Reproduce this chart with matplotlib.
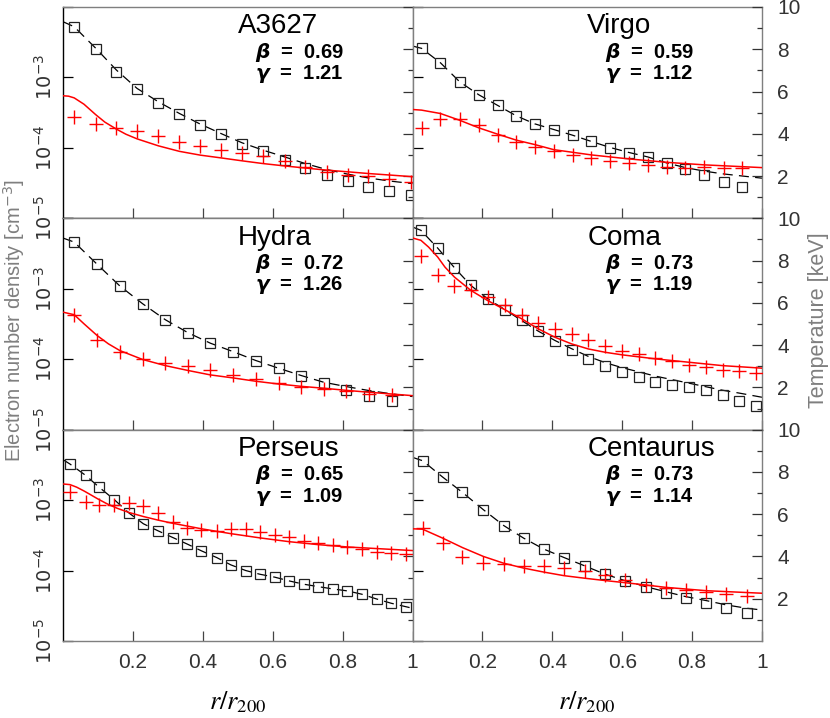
import numpy as np
import matplotlib
matplotlib.use("Agg")
import matplotlib.pyplot as plt
from matplotlib.ticker import NullLocator

plt.rcParams['font.family'] = ['Liberation Sans', 'DejaVu Sans']

# ---------------- data ----------------
names = ["A3627", "Virgo", "Hydra", "Coma", "Perseus", "Centaurus"]
betas = ["0.69", "0.59", "0.72", "0.73", "0.65", "0.73"]
gammas = ["1.21", "1.12", "1.26", "1.19", "1.09", "1.14"]

# A3627
a3627_x = [0.032, 0.094, 0.153, 0.212, 0.273, 0.333, 0.393, 0.452, 0.513, 0.573, 0.634, 0.693, 0.755, 0.816, 0.874, 0.934, 0.996]
a3627_logne = [-2.280, -2.601, -2.920, -3.170, -3.361, -3.526, -3.678, -3.796, -3.938, -4.047, -4.171, -4.285, -4.379, -4.474, -4.555, -4.616, -4.663]
a3627_T = [4.80, 4.45, 4.28, 4.12, 3.90, 3.62, 3.43, 3.22, 3.09, 2.95, 2.72, 2.43, 2.19, 2.07, 1.99, 1.86, 1.72]
a3627_fit_x = [0, 0.032, 0.094, 0.153, 0.212, 0.273, 0.333, 0.393, 0.452, 0.513, 0.573, 0.634, 0.693, 0.755, 0.816, 0.874, 0.934, 1.0]
a3627_fit_logne = [-2.209, -2.280, -2.587, -2.896, -3.156, -3.346, -3.511, -3.663, -3.796, -3.929, -4.033, -4.128, -4.222, -4.308, -4.374, -4.427, -4.470, -4.507]
a3627_fitT_x = [0, 0.016, 0.032, 0.06, 0.094, 0.12, 0.153, 0.18, 0.212, 0.273, 0.333, 0.393, 0.452, 0.513, 0.573, 0.634, 0.693, 0.755, 0.816, 0.874, 0.934, 1.0]
a3627_fitT = [5.80, 5.78, 5.70, 5.40, 4.90, 4.55, 4.22, 3.98, 3.76, 3.43, 3.17, 2.99, 2.86, 2.72, 2.59, 2.48, 2.38, 2.28, 2.20, 2.12, 2.05, 1.97]

# Virgo
virgo_x = [0.026, 0.080, 0.135, 0.190, 0.244, 0.297, 0.350, 0.404, 0.458, 0.512, 0.566, 0.620, 0.673, 0.728, 0.781, 0.835, 0.890, 0.944]
virgo_logne = [-2.587, -2.792, -3.062, -3.247, -3.398, -3.545, -3.659, -3.739, -3.820, -3.909, -3.995, -4.066, -4.128, -4.208, -4.303, -4.384, -4.478, -4.555]
virgo_T = [4.28, 4.72, 4.69, 4.44, 3.96, 3.62, 3.38, 3.18, 3.02, 2.86, 2.72, 2.62, 2.51, 2.43, 2.39, 2.43, 2.39, 2.39]
virgo_fit_x = [0, 0.026, 0.080, 0.135, 0.190, 0.244, 0.297, 0.350, 0.404, 0.458, 0.512, 0.566, 0.620, 0.673, 0.728, 0.781, 0.835, 0.890, 1.0]
virgo_fit_logne = [-2.554, -2.587, -2.792, -3.062, -3.247, -3.398, -3.545, -3.659, -3.739, -3.820, -3.909, -3.995, -4.066, -4.128, -4.215, -4.280, -4.330, -4.370, -4.430]
virgo_fitT_x = [0, 0.026, 0.080, 0.135, 0.190, 0.244, 0.297, 0.350, 0.404, 0.512, 0.620, 0.728, 0.835, 1.0]
virgo_fitT = [5.15, 5.12, 4.96, 4.64, 4.28, 3.98, 3.70, 3.49, 3.25, 3.00, 2.81, 2.65, 2.53, 2.40]

# Hydra
hydra_x = [0.032, 0.098, 0.163, 0.228, 0.293, 0.358, 0.422, 0.486, 0.552, 0.617, 0.682, 0.746, 0.811, 0.876, 0.941]
hydra_logne = [-2.337, -2.654, -2.962, -3.213, -3.440, -3.625, -3.773, -3.891, -4.019, -4.128, -4.232, -4.342, -4.436, -4.517, -4.592]
hydra_T = [5.44, 4.25, 3.66, 3.35, 3.14, 2.99, 2.83, 2.61, 2.40, 2.19, 2.04, 1.93, 1.85, 1.69, 1.66]
hydra_fit_x = [0, 0.032, 0.098, 0.163, 0.228, 0.293, 0.358, 0.422, 0.486, 0.552, 0.617, 0.682, 0.746, 0.811, 0.876, 0.941, 1.0]
hydra_fit_logne = [-2.280, -2.337, -2.654, -2.962, -3.213, -3.440, -3.625, -3.773, -3.891, -4.019, -4.128, -4.232, -4.327, -4.389, -4.445, -4.492, -4.530]
hydra_fitT_x = [0, 0.032, 0.06, 0.098, 0.13, 0.163, 0.228, 0.293, 0.358, 0.422, 0.486, 0.552, 0.617, 0.682, 0.746, 0.811, 0.876, 1.0]
hydra_fitT = [5.56, 5.44, 5.01, 4.45, 4.06, 3.74, 3.32, 3.03, 2.80, 2.59, 2.45, 2.29, 2.16, 2.05, 1.96, 1.86, 1.77, 1.61]

# Coma
coma_x = [0.024, 0.072, 0.120, 0.167, 0.215, 0.265, 0.312, 0.360, 0.408, 0.455, 0.503, 0.552, 0.600, 0.648, 0.695, 0.743, 0.791, 0.839, 0.887, 0.934, 0.982]
coma_logne = [-2.170, -2.422, -2.701, -2.953, -3.142, -3.298, -3.450, -3.602, -3.735, -3.867, -3.995, -4.100, -4.185, -4.256, -4.318, -4.364, -4.399, -4.436, -4.507, -4.588, -4.659]
coma_T = [8.20, 7.30, 6.79, 6.59, 6.30, 5.88, 5.44, 5.06, 4.77, 4.54, 4.22, 3.95, 3.74, 3.59, 3.38, 3.24, 3.07, 2.95, 2.83, 2.76, 2.69]
coma_fit_x = [0, 0.024, 0.072, 0.120, 0.167, 0.215, 0.265, 0.312, 0.360, 0.408, 0.455, 0.503, 0.552, 0.600, 0.648, 0.695, 0.743, 0.791, 0.839, 0.887, 0.934, 1.0]
coma_fit_logne = [-2.123, -2.170, -2.422, -2.701, -2.953, -3.142, -3.298, -3.450, -3.602, -3.735, -3.850, -3.960, -4.050, -4.120, -4.180, -4.240, -4.290, -4.340, -4.390, -4.440, -4.480, -4.540]
coma_fitT_x = [0, 0.024, 0.046, 0.072, 0.093, 0.120, 0.167, 0.215, 0.265, 0.312, 0.360, 0.408, 0.455, 0.503, 0.552, 0.600, 0.695, 0.791, 0.887, 1.0]
coma_fitT = [9.07, 8.96, 8.64, 8.17, 7.69, 7.22, 6.59, 6.11, 5.67, 5.25, 4.77, 4.37, 4.06, 3.82, 3.66, 3.54, 3.35, 3.19, 3.03, 2.91]

# Perseus
perseus_x = [0.020, 0.065, 0.103, 0.147, 0.189, 0.230, 0.272, 0.314, 0.356, 0.396, 0.440, 0.480, 0.523, 0.563, 0.606, 0.647, 0.689, 0.730, 0.772, 0.814, 0.855, 0.897, 0.939, 0.980]
perseus_logne = [-2.488, -2.650, -2.815, -2.995, -3.184, -3.336, -3.436, -3.531, -3.625, -3.720, -3.816, -3.919, -4.000, -4.052, -4.094, -4.147, -4.194, -4.228, -4.261, -4.289, -4.336, -4.403, -4.464, -4.512]
perseus_T = [7.03, 6.57, 6.45, 6.45, 6.55, 6.37, 6.05, 5.65, 5.37, 5.23, 5.21, 5.32, 5.31, 5.18, 5.02, 4.91, 4.74, 4.66, 4.55, 4.47, 4.36, 4.23, 4.18, 4.12]
perseus_fit_x = [0, 0.020, 0.065, 0.103, 0.147, 0.189, 0.230, 0.272, 0.314, 0.356, 0.396, 0.440, 0.480, 0.523, 0.563, 0.606, 0.647, 0.689, 0.730, 0.772, 0.814, 0.855, 0.897, 0.939, 0.980, 1.0]
perseus_fit_logne = [-2.426, -2.488, -2.650, -2.815, -2.995, -3.184, -3.336, -3.436, -3.531, -3.625, -3.720, -3.816, -3.919, -4.000, -4.052, -4.094, -4.147, -4.194, -4.228, -4.261, -4.289, -4.336, -4.403, -4.464, -4.512, -4.535]
perseus_fitT_x = [0, 0.02, 0.039, 0.06, 0.077, 0.1, 0.125, 0.155, 0.189, 0.230, 0.272, 0.314, 0.396, 0.480, 0.563, 0.647, 0.730, 0.814, 1.0]
perseus_fitT = [7.43, 7.40, 7.28, 7.10, 6.94, 6.72, 6.50, 6.28, 6.08, 5.89, 5.72, 5.57, 5.31, 5.08, 4.88, 4.70, 4.56, 4.45, 4.28]

# Centaurus
centaurus_x = [0.029, 0.086, 0.143, 0.203, 0.261, 0.318, 0.376, 0.434, 0.493, 0.551, 0.608, 0.667, 0.724, 0.782, 0.841, 0.898, 0.956]
centaurus_logne = [-2.441, -2.672, -2.891, -3.137, -3.361, -3.540, -3.696, -3.816, -3.934, -4.052, -4.143, -4.228, -4.313, -4.393, -4.464, -4.535, -4.606]
centaurus_T = [5.37, 4.63, 3.97, 3.71, 3.64, 3.57, 3.55, 3.47, 3.32, 3.13, 2.89, 2.65, 2.50, 2.42, 2.34, 2.23, 2.15]
centaurus_fit_x = [0, 0.029, 0.086, 0.143, 0.203, 0.261, 0.318, 0.376, 0.434, 0.493, 0.551, 0.608, 0.667, 0.724, 0.782, 0.841, 0.898, 0.956, 1.0]
centaurus_fit_logne = [-2.393, -2.441, -2.672, -2.891, -3.137, -3.361, -3.540, -3.696, -3.816, -3.934, -4.052, -4.143, -4.228, -4.300, -4.370, -4.427, -4.488, -4.535, -4.560]
centaurus_fitT_x = [0, 0.029, 0.086, 0.143, 0.203, 0.261, 0.318, 0.376, 0.434, 0.493, 0.551, 0.608, 0.667, 0.724, 0.782, 0.841, 1.0]
centaurus_fitT = [5.31, 5.29, 4.87, 4.42, 4.00, 3.68, 3.45, 3.26, 3.09, 2.97, 2.86, 2.76, 2.65, 2.54, 2.46, 2.38, 2.26]

panels = [
    (a3627_x, a3627_logne, a3627_T, a3627_fit_x, a3627_fit_logne, a3627_fitT_x, a3627_fitT),
    (virgo_x, virgo_logne, virgo_T, virgo_fit_x, virgo_fit_logne, virgo_fitT_x, virgo_fitT),
    (hydra_x, hydra_logne, hydra_T, hydra_fit_x, hydra_fit_logne, hydra_fitT_x, hydra_fitT),
    (coma_x, coma_logne, coma_T, coma_fit_x, coma_fit_logne, coma_fitT_x, coma_fitT),
    (perseus_x, perseus_logne, perseus_T, perseus_fit_x, perseus_fit_logne, perseus_fitT_x, perseus_fitT),
    (centaurus_x, centaurus_logne, centaurus_T, centaurus_fit_x, centaurus_fit_logne, centaurus_fitT_x, centaurus_fitT),
]

x_ticks = [0.2, 0.4, 0.6, 0.8, 1.0]
x_ticklabels = ["0.2", "0.4", "0.6", "0.8", "1"]
ne_ticks = [1e-5, 1e-4, 1e-3, 1e-2]
ne_ticklabels = [r"$10^{-5}$", r"$10^{-4}$", r"$10^{-3}$", ""]
T_major = [2, 4, 6, 8, 10]
T_minor = [1, 3, 5, 7, 9]

# ---------------- figure ----------------
W, H = 830, 718
fig = plt.figure(figsize=(W / 100, H / 100), dpi=100)
gs = fig.add_gridspec(3, 2, left=63 / W, right=762 / W, top=1 - 7 / H,
                      bottom=1 - 641 / H, hspace=0, wspace=0)

GRAY = "#7f7f7f"
TXT = "#333333"
TL = 7.2  # tick length in points (~10 px)

for i, (px, plogne, pT, fx, flogne, tx, tT) in enumerate(panels):
    r, c = divmod(i, 2)
    ax = fig.add_subplot(gs[r, c])
    ax.set_yscale("log")
    ax.set_xlim(0, 1)
    ax.set_ylim(1e-5, 1e-2)
    ax2 = ax.twinx()
    ax2.set_ylim(0, 10)

    ax.plot(fx, np.power(10.0, flogne), color="black", lw=0.9, ls=(0, (8, 5)), zorder=2)
    ax.plot(px, np.power(10.0, plogne), ls="none", marker="s", ms=6.8,
            mfc="none", mec="#222222", mew=0.9, zorder=3)
    ax2.plot(tx, tT, color="red", lw=1.1, zorder=2)
    ax2.plot(px, pT, ls="none", marker="+", ms=9.5, mec="red", mew=1.0, zorder=3)

    # x axis
    ax.set_xticks(x_ticks)
    if r == 2:
        ax.set_xticklabels(x_ticklabels)
    else:
        ax.set_xticklabels([])
    ax.tick_params(axis="x", direction="in", length=TL, width=0.9, top=False,
                   labelsize=15, pad=9, labelcolor=TXT, color="#444444")

    # density axis
    ax.set_yticks(ne_ticks)
    ax.yaxis.set_minor_locator(NullLocator())
    if c == 0:
        ax.set_yticklabels(ne_ticklabels, rotation=90, va="center")
    else:
        ax.set_yticklabels([])
    ax.tick_params(axis="y", which="both", direction="in", length=TL, width=0.9,
                   right=False, labelsize=14, pad=5, labelcolor=TXT)

    # temperature axis
    ax2.set_yticks(T_major)
    ax2.set_yticks(T_minor, minor=True)
    if c == 1:
        ax2.set_yticklabels([str(v) for v in T_major])
    else:
        ax2.set_yticklabels([])
    ax2.tick_params(axis="y", which="major", direction="in", length=TL, width=0.9,
                    labelsize=15, pad=11, labelcolor=TXT, color="#333333")
    ax2.tick_params(axis="y", which="minor", direction="in", length=TL / 2, width=0.9,
                    color="#333333")

    for sp in ax2.spines.values():
        sp.set_visible(False)
    for name, sp in ax.spines.items():
        sp.set_linewidth(1.0)
        sp.set_color(GRAY)
    ax.spines["left"].set_color("black" if c == 0 else GRAY)
    ax.spines["bottom"].set_color("black" if r < 2 else GRAY)

    ax2.text(0.5, 0.875, names[i], transform=ax.transAxes, fontsize=20,
             ha="left", va="baseline", color="black")
    ax2.text(0.55, 0.76, r"$\mathbfit{\beta}$  =  " + betas[i], transform=ax.transAxes,
             fontsize=14.5, fontweight="bold", ha="left", va="baseline")
    ax2.text(0.55, 0.66, r"$\mathbfit{\gamma}$  =  " + gammas[i], transform=ax.transAxes,
             fontsize=14.5, fontweight="bold", ha="left", va="baseline")

fig.text(14 / W, 1 - 321 / H, r"Electron number density [cm$^{-3}$]", rotation=90,
         ha="center", va="center", fontsize=14.5, color=GRAY)
fig.text(818 / W, 1 - 320 / H, "Temperature [keV]", rotation=90,
         ha="center", va="center", fontsize=15.5, color=GRAY)
for xc in (237.5, 587):
    fig.text(xc / W, 1 - 702 / H, r"$r/r_{\mathit{200}}$", math_fontfamily="stix",
             ha="center", va="center", fontsize=19, color="black")

fig.savefig("out.png", dpi=100)
